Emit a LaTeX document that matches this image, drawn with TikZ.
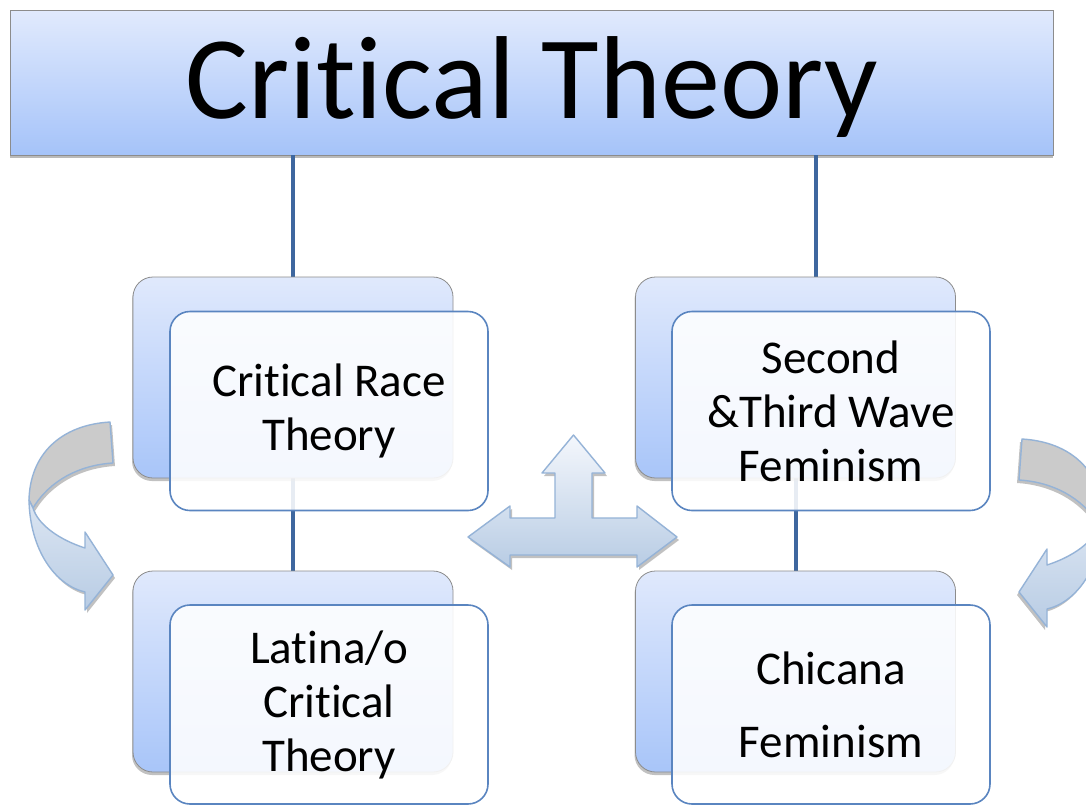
\documentclass[tikz,border=0pt]{standalone}
\usepackage{fontspec}
\setmainfont{Carlito}[Ligatures={NoCommon}]
\usetikzlibrary{shadows,calc}
\definecolor{titletop}{HTML}{E1EAFD}
\definecolor{titlebot}{HTML}{A5C3F9}
\definecolor{backtop}{HTML}{E0E9FC}
\definecolor{backbot}{HTML}{A8C5F9}
\definecolor{linecol}{HTML}{3E679F}
\definecolor{frontborder}{HTML}{5A85C0}
\definecolor{arrowborder}{HTML}{95B3D7}
\definecolor{arrowtop}{HTML}{F4F7FC}
\definecolor{arrowbot}{HTML}{B8CCE4}
\definecolor{arrowgray}{HTML}{CBCBCB}
\tikzset{
  titlebox/.style={draw=black!45, line width=0.8pt, top color=titletop, bottom color=titlebot,
    minimum width=1043pt, minimum height=145pt, inner sep=0pt,
    text height=80pt, text depth=9pt,
    drop shadow={shadow xshift=0pt, shadow yshift=-3pt, fill=black!60, opacity=0.45},
    font=\fontsize{118}{120}\selectfont},
  backbox/.style={draw=black!45, line width=0.8pt, rounded corners=20pt, top color=backtop, bottom color=backbot,
    minimum width=320pt, minimum height=201pt, inner sep=0pt,
    drop shadow={shadow xshift=-1pt, shadow yshift=-3pt, fill=black!60, opacity=0.4}},
  frontbox/.style={draw=frontborder, line width=1.6pt, rounded corners=20pt, fill=white,
    fill opacity=0.88, text opacity=1, draw opacity=1,
    minimum width=318pt, minimum height=199pt, inner sep=0pt, align=center,
    font=\fontsize{47}{54}\selectfont},
  conn/.style={draw=linecol, line width=4pt},
  arrowline/.style={draw=arrowborder, line width=1.4pt, line join=round},
  arrowshade/.style={top color=arrowtop, bottom color=arrowbot},
  arrowshadow/.style={fill=black!40, opacity=0.6},
  curvearrow/.pic={
    \fill[arrowshadow, shift={(2,3)}] (110,422) .. controls (60,425) and (30,455) .. (29,500)
        .. controls (30,550) and (55,585) .. (85,592) -- (85,610) -- (113,575) -- (85,532) -- (85,548)
        .. controls (60,540) and (38,525) .. (33,508) .. controls (50,480) and (80,465) .. (113,463) -- cycle;
    \path[arrowline, fill=arrowgray] (110,422) .. controls (60,425) and (30,455) .. (29,500) -- (33,508)
        .. controls (50,480) and (80,465) .. (113,463) -- cycle;
    \path[arrowline, top color=arrowtop!60!arrowbot, bottom color=arrowbot] (29,500)
        .. controls (30,550) and (55,585) .. (85,592) -- (85,610) -- (113,575) -- (85,532) -- (85,548)
        .. controls (60,540) and (38,525) .. (33,508) -- cycle;
  }
}
\begin{document}
\begin{tikzpicture}[x=1pt,y=-1pt]
\clip (0,0) rectangle (1086,804);
\fill[white] (0,0) rectangle (1086,804);

% connectors first
\node[titlebox] (title) at (531.5,82.5) {Critical Theory};
\coordinate (b1n) at (293,277);
\coordinate (b3n) at (795.5,277);
\draw[conn] (b1n |- title.south) -- (b1n);
\draw[conn] ([xshift=20.5pt]b3n |- title.south) -- ([xshift=20.5pt]b3n);
\draw[conn] (293,478) -- (293,571);
\draw[conn] (795.5,478) -- (795.5,571);

% boxes
\node[backbox] (b1) at (293,377.5) {};
\node[backbox] (b2) at (293,671.5) {};
\node[backbox] (b3) at (795.5,377.5) {};
\node[backbox] (b4) at (795.5,671.5) {};
\node[frontbox] (f1) at (329,411) {Critical Race\\Theory};
\node[frontbox] (f2) at (329,704.5) {Latina/o\\Critical\\Theory};
\node[frontbox] (f3) at (831,411) {Second\\\&Third Wave\\Feminism};
\node[frontbox] (f4) at (831,704.5) {Chicana\\[19pt]Feminism};

% centre arrow
\fill[arrowshadow, shift={(2,3)}] (468,537) -- (510,506) -- (510,518) -- (555,518) -- (555,473) -- (542,473) -- (573.5,435) -- (605,473) -- (592,473) -- (592,518) -- (637,518) -- (637,506) -- (677,537) -- (637,567) -- (637,555) -- (510,555) -- (510,567) -- cycle;
\path[arrowline, arrowshade] (468,537) -- (510,506) -- (510,518) -- (555,518) -- (555,473) -- (542,473) -- (573.5,435) -- (605,473) -- (592,473) -- (592,518) -- (637,518) -- (637,506) -- (677,537) -- (637,567) -- (637,555) -- (510,555) -- (510,567) -- cycle;

% curved arrows
\pic at (0,0) {curvearrow};
\pic[xscale=-1] at (1132,17) {curvearrow};
\end{tikzpicture}
\end{document}
